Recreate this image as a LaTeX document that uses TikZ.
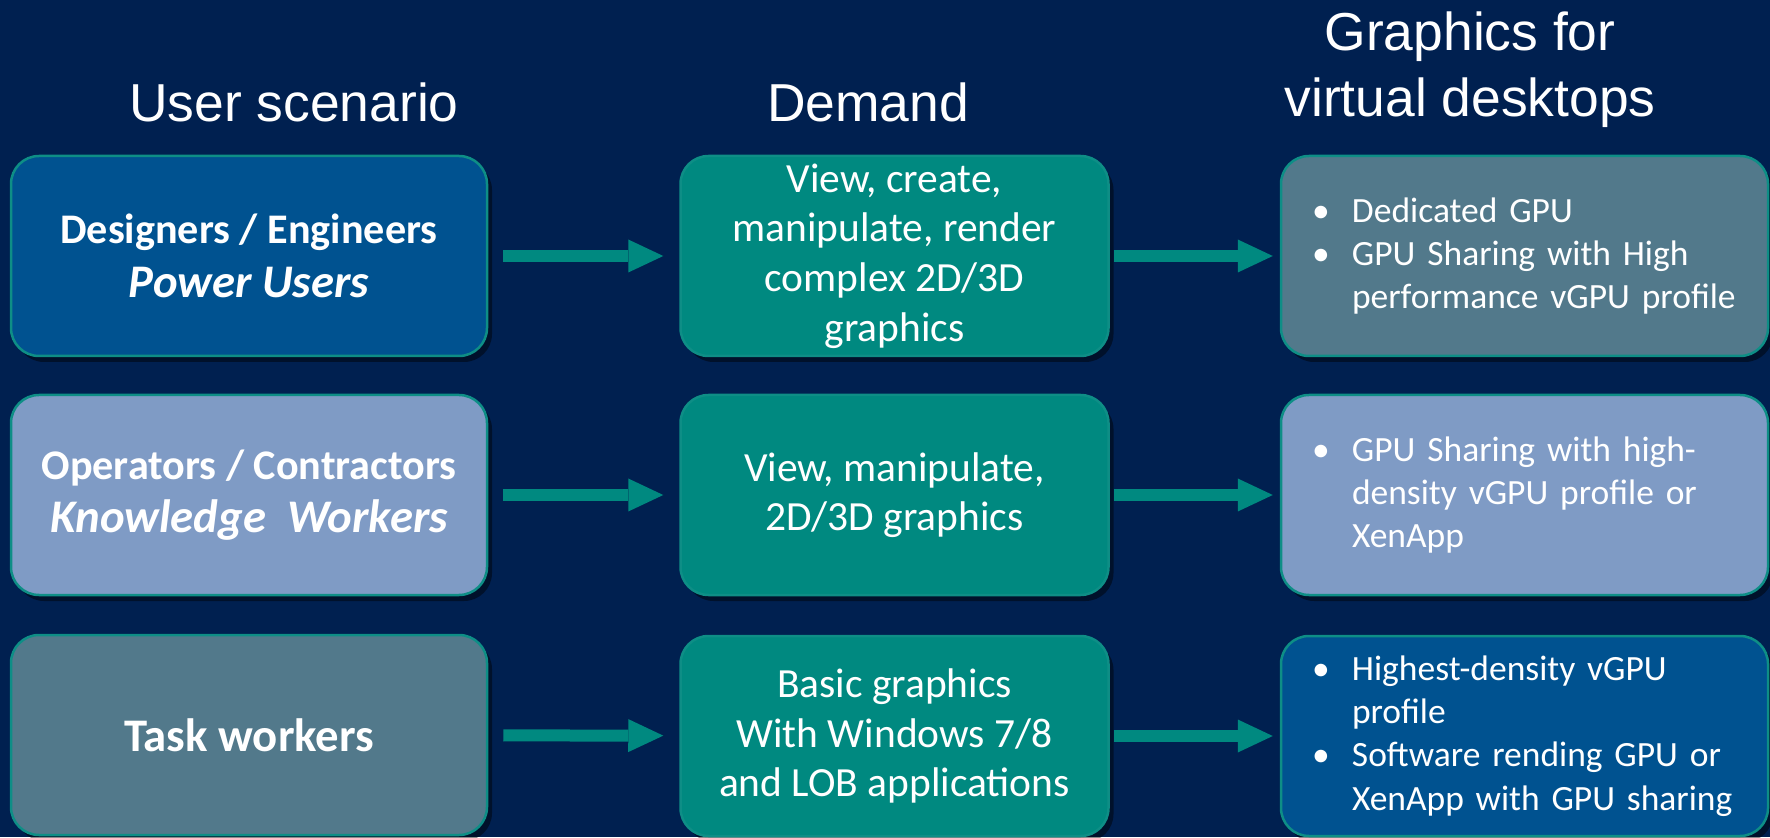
\documentclass[tikz,border=0pt]{standalone}
\usepackage{fontspec}
\setmainfont{Carlito}
\newfontfamily\headfont{Liberation Sans}
\usepackage{tikz}
\usetikzlibrary{arrows.meta, shadows}

\definecolor{navy}{RGB}{0,32,80}
\definecolor{tealbox}{RGB}{0,137,128}
\definecolor{tealedge}{RGB}{14,142,134}
\definecolor{deepblue}{RGB}{0,82,144}
\definecolor{paleblue}{RGB}{127,155,197}
\definecolor{slate}{RGB}{82,121,139}

% bullet line and continuation line for the right-hand boxes
\newcommand{\bul}[1]{\mbox{\makebox[4mm][l]{\textbullet}#1}}
\newcommand{\cont}[1]{\mbox{\makebox[4mm]{}#1}}

\begin{document}
\begin{tikzpicture}[>=Stealth,
    box/.style={draw=tealedge, line width=0.25mm, rounded corners=2.8mm, text=white,
      minimum height=2cm, drop shadow={shadow xshift=0.5mm, shadow yshift=-0.6mm, opacity=0.45, fill=black}},
    ubox/.style={box, minimum width=4.76cm, align=center},
    dbox/.style={box, fill=tealbox, minimum width=4.28cm, inner ysep=0pt, align=center, font=\fontsize{11.8}{14.1}\selectfont},
    gbox/.style={box, inner xsep=3.1mm, text width=4.25cm, align=left, font=\fontsize{10.1}{12.3}\selectfont},
    head/.style={text=white, align=center, font=\headfont\fontsize{15.2}{18.8}\selectfont},
    flow/.style={draw=tealbox, line width=1.2mm, -{Triangle[length=3.5mm, width=3.3mm, line width=0pt]}}
  ]
  \fill[navy] (0, 0) rectangle (17.70, 8.37);
  \useasboundingbox (0, 0) rectangle (17.70, 8.37);

  % column titles
  \node[head] (hu) at (2.94, 7.35) {User scenario};
  \node[head] (hd) at (8.68, 7.35) {Demand};
  \node[head] (hg) at (14.70, 7.67) {Graphics for\\virtual desktops};

  % user scenarios
  \node[ubox, fill=deepblue, font=\fontsize{13.3}{15.2}\selectfont\bfseries] (u1) at (2.49, 5.81)
    {{\fontsize{12}{15.2}\selectfont Designers / Engineers}\\\itshape Power Users};
  \node[ubox, fill=paleblue, font=\fontsize{13.3}{15.2}\selectfont\bfseries] (u2) at (2.49, 3.42)
    {{\fontsize{12}{15.2}\selectfont Operators / Contractors}\\\itshape Knowledge\ \ Workers};
  \node[ubox, fill=slate, font=\fontsize{13.3}{15.2}\selectfont\bfseries] (u3) at (2.49, 1.02)
    {Task workers};

  % demand
  \node[dbox] (d1) at (8.945, 5.81) {View, create,\\manipulate, render\\complex 2D/3D\\graphics};
  \node[dbox] (d2) at (8.945, 3.42) {View, manipulate,\\2D/3D graphics};
  \node[dbox] (d3) at (8.945, 1.01) {Basic graphics\\With Windows 7/8\\and LOB applications};

  % graphics for virtual desktops
  \node[gbox, fill=slate] (g1) at (15.245, 5.81)
    {\bul{Dedicated GPU}\\\bul{GPU Sharing with High}\\\cont{performance vGPU profile}};
  \node[gbox, fill=paleblue] (g2) at (15.245, 3.42)
    {\bul{GPU Sharing with high-}\\\cont{density vGPU profile or}\\\cont{XenApp}};
  \node[gbox, fill=deepblue] (g3) at (15.245, 1.01)
    {\bul{Highest-density vGPU}\\\cont{profile}\\\bul{Software rending GPU or}\\\cont{XenApp with GPU sharing}};

  \draw[flow, shorten <=1.5mm, shorten >=1.6mm] (u1) -- (d1);
  \draw[flow, shorten <=1.5mm, shorten >=1.6mm] (u2) -- (d2);
  \draw[flow, shorten <=1.5mm, shorten >=1.6mm] (u3) -- (d3);
  \draw[flow, shorten <=0.4mm, shorten >=0.7mm] (d1) -- (g1);
  \draw[flow, shorten <=0.4mm, shorten >=0.7mm] (d2) -- (g2);
  \draw[flow, shorten <=0.4mm, shorten >=0.7mm] (d3) -- (g3);
\end{tikzpicture}
\end{document}
